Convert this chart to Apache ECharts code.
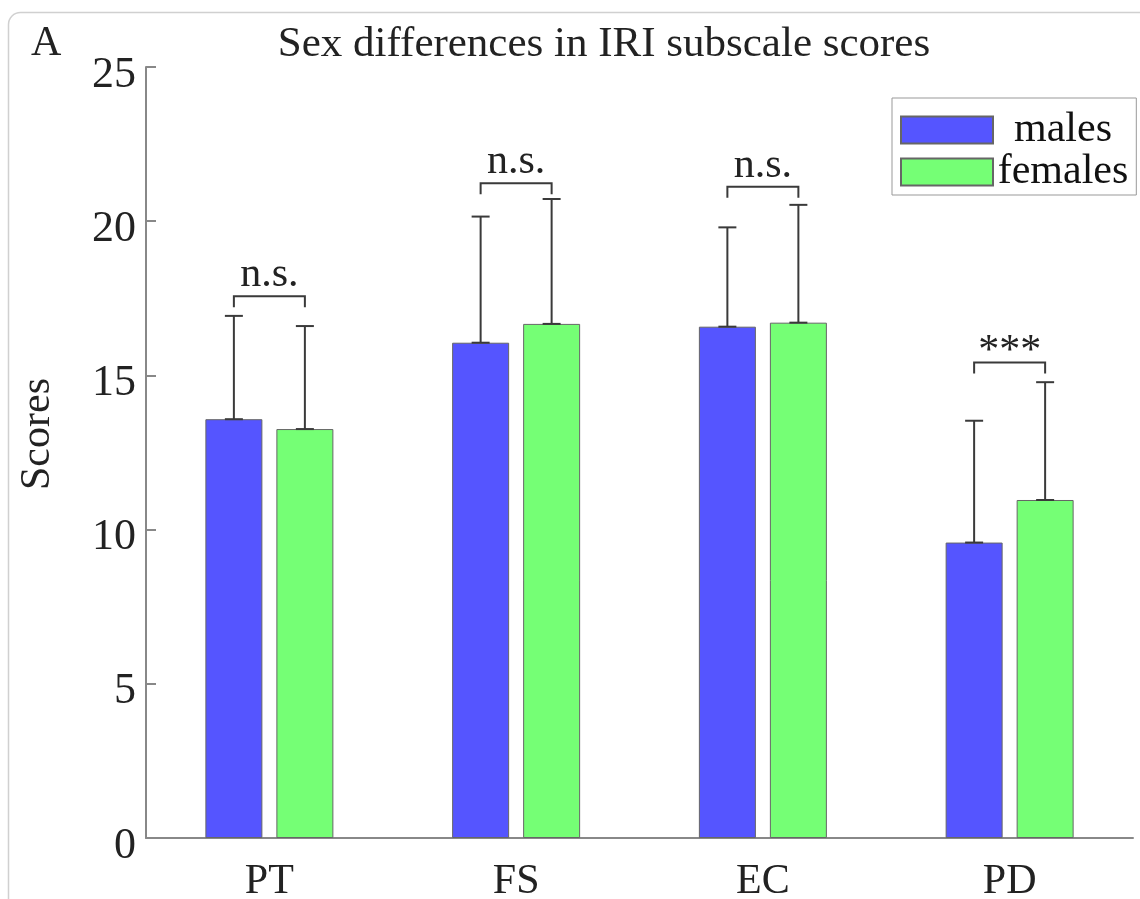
<!DOCTYPE html>
<html><head><meta charset="utf-8">
<script src="https://cdn.jsdelivr.net/npm/echarts@6/dist/echarts.min.js"></script>
<style>html,body{margin:0;padding:0;background:#fff}#c{width:1140px;height:899px}</style>
</head><body><div id="c"></div>
<script>
// ---- data ----
const categories = ['PT', 'FS', 'EC', 'PD'];
const maleMeans = [13.58, 16.06, 16.58, 9.58];
const femaleMeans = [13.26, 16.67, 16.71, 10.96];
const maleSD = [3.35, 4.09, 3.22, 3.95];
const femaleSD = [3.34, 4.05, 3.82, 3.82];
const sigLabels = ['n.s.', 'n.s.', 'n.s.', '***'];
const bracketY = [17.57, 21.23, 21.12, 15.42];
const yTicks = [0, 5, 10, 15, 20, 25];

// ---- style ----
const FONT = 'Liberation Serif';
const BAR_W = 57, BAR_GAP = 14;
const HALF = (BAR_W + BAR_GAP) / 2;
const ERR_COLOR = '#3a3a3a';

const chart = echarts.init(document.getElementById('c'), null, {renderer: 'canvas'});

function errRender(offset) {
  return function (params, api) {
    const c = api.value(0), m = api.value(1), sd = api.value(2);
    const p0 = api.coord([c, m]);
    const p1 = api.coord([c, m + sd]);
    const x = p0[0] + offset;
    const st = {stroke: ERR_COLOR, lineWidth: 2};
    return {type: 'group', children: [
      {type: 'line', shape: {x1: x, y1: p0[1], x2: x, y2: p1[1]}, style: st},
      {type: 'line', shape: {x1: x - 9, y1: p1[1], x2: x + 9, y2: p1[1]}, style: st},
      {type: 'line', shape: {x1: x - 9, y1: p0[1], x2: x + 9, y2: p0[1]}, style: st}
    ]};
  };
}

function bracketRender(params, api) {
  const c = api.value(0), y = api.value(1);
  const p = api.coord([c, y]);
  const xl = p[0] - HALF, xr = p[0] + HALF;
  const lab = sigLabels[params.dataIndex];
  const off = lab === '***' ? 10 : 21;
  return {type: 'group', children: [
    {type: 'polyline', shape: {points: [[xl, p[1] + 11], [xl, p[1]], [xr, p[1]], [xr, p[1] + 11]]},
     style: {stroke: ERR_COLOR, lineWidth: 2, fill: 'none'}},
    {type: 'text', x: p[0], y: p[1] - off,
     style: {text: lab, fontFamily: FONT, fontSize: 42, fill: '#222', align: 'center', verticalAlign: 'middle'}}
  ]};
}

const option = {
  backgroundColor: '#fff',
  animation: false,
  title: {
    text: 'Sex differences in IRI subscale scores',
    left: 604, top: 23, textAlign: 'center', padding: 0,
    textStyle: {fontFamily: FONT, fontSize: 43, fontWeight: 'normal', color: '#222', lineHeight: 43}
  },
  graphic: [
    {type: 'rect', shape: {x: 8.5, y: 12.5, width: 1200, height: 1000, r: 12},
     style: {fill: 'none', stroke: '#d0d0d0', lineWidth: 1.5}, silent: true},
    {type: 'text', x: 31, y: 44,
     style: {text: 'A', fontFamily: FONT, fontSize: 42, fill: '#222', verticalAlign: 'middle'}},
    {type: 'text', x: 38, y: 434, rotation: Math.PI / 2,
     style: {text: 'Scores', fontFamily: FONT, fontSize: 42, fill: '#222', align: 'center', verticalAlign: 'middle'}}
  ],
  legend: {
    data: ['males', 'females'],
    orient: 'vertical', left: 892, top: 98,
    itemWidth: 92, itemHeight: 27, itemGap: 0,
    padding: [11, 8, 2, 8],
    borderColor: '#999', borderWidth: 1, backgroundColor: '#fff',
    icon: 'rect',
    formatter: name => '{t|' + name + '}',
    textStyle: {
      fontFamily: FONT, fontSize: 42, color: '#111',
      rich: {t: {fontFamily: FONT, fontSize: 42, width: 130, align: 'center', lineHeight: 42, color: '#111'}}
    }
  },
  grid: {left: 146, right: 7, top: 67, bottom: 61, containLabel: false, outerBoundsMode: 'none'},
  xAxis: {
    type: 'category', data: categories,
    axisLine: {lineStyle: {color: '#888', width: 2}},
    axisTick: {show: false},
    axisLabel: {fontFamily: FONT, fontSize: 42, color: '#222', margin: 23}
  },
  yAxis: {
    type: 'value', min: yTicks[0], max: yTicks[yTicks.length - 1], interval: yTicks[1] - yTicks[0],
    axisLine: {show: true, lineStyle: {color: '#888', width: 2}},
    axisTick: {show: true, inside: true, length: 10, lineStyle: {color: '#888', width: 2}},
    splitLine: {show: false},
    axisLabel: {
      margin: 10,
      formatter: v => '{v|' + v + '}',
      rich: {v: {fontFamily: FONT, fontSize: 44, color: '#222', padding: [16, 0, 0, 0]}}
    }
  },
  series: [
    {name: 'males', type: 'bar', data: maleMeans, barWidth: BAR_W, barGap: (BAR_GAP / BAR_W * 100) + '%',
     itemStyle: {color: '#5555ff', borderColor: '#666', borderWidth: 1}},
    {name: 'females', type: 'bar', data: femaleMeans, barWidth: BAR_W,
     itemStyle: {color: '#75ff75', borderColor: '#666', borderWidth: 1}},
    {name: 'errM', type: 'custom', renderItem: errRender(-HALF), z: 5,
     encode: {x: 0, y: 1}, data: categories.map((c, i) => [i, maleMeans[i], maleSD[i]])},
    {name: 'errF', type: 'custom', renderItem: errRender(HALF), z: 5,
     encode: {x: 0, y: 1}, data: categories.map((c, i) => [i, femaleMeans[i], femaleSD[i]])},
    {name: 'sig', type: 'custom', renderItem: bracketRender, z: 6,
     encode: {x: 0, y: 1}, data: categories.map((c, i) => [i, bracketY[i]])}
  ]
};
chart.setOption(option);
</script>
</body></html>
